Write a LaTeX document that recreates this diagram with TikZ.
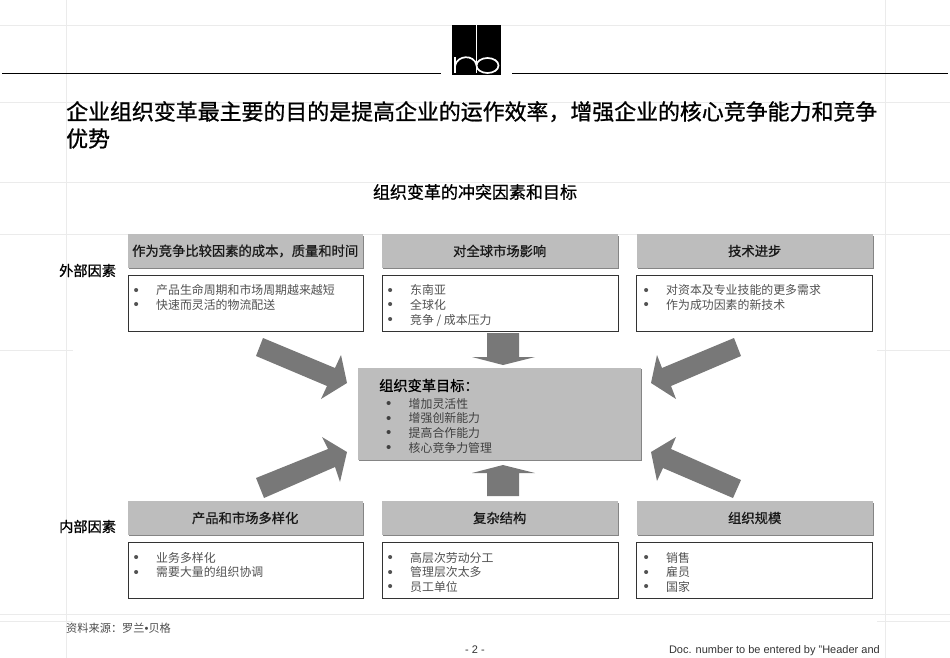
\documentclass[tikz,border=0pt]{standalone}
\usepackage{fontspec}
\setmainfont{Liberation Sans}
\newfontfamily\cjk{Noto Sans CJK SC}
\newfontfamily\cjkb[FakeBold=0.9]{Noto Sans CJK SC}
\newcommand{\blt}{\makebox[22.5pt][l]{{\fontspec{Liberation Sans}\fontsize{15}{14}\selectfont\raisebox{-.3pt}{•}}}}
\tikzset{
  gridln/.style={draw=black!8,line width=.5pt},
  rule/.style={draw=black,line width=.9pt},
  headbox/.style={fill=black!26,draw=none,minimum height=33.5pt,inner sep=0pt,anchor=north west,font=\cjkb\fontsize{13.3}{15}\selectfont,text=black!90},
  listbox/.style={draw=black!80,line width=.7pt,fill=white,minimum height=56pt,inner sep=0pt,anchor=north west},
  listtext/.style={anchor=north west,inner sep=0pt,align=left,text=black!68,font=\cjk\fontsize{11.9}{14.65}\selectfont},
  sidelabel/.style={anchor=west,inner sep=0pt,font=\cjkb\fontsize{14.2}{16}\selectfont},
  bigarrow/.style={fill=black!53,draw=none},
  boxshadow/.style={fill=black!48,draw=none}
}
\begin{document}
\begin{tikzpicture}[x=1pt,y=-1pt]
\useasboundingbox (0,0) rectangle (950,658);
% faint guide lines
\foreach \y in {25,102,182,234,614}{\draw[gridln] (0,\y) -- (950,\y);}
\foreach \x in {66,885}{\draw[gridln] (\x,0) -- (\x,658);}
\foreach \y in {350,621}{\draw[gridln] (0,\y) -- (73,\y); \draw[gridln] (877,\y) -- (950,\y);}
% top rules and logo
\draw[rule] (2,73) -- (441,73);
\draw[rule] (512,73) -- (948,73);
\fill[black] (452,25) rectangle (501,75);
\draw[white,line width=1.7pt] (476.5,25) -- (476.5,73);
\draw[white,line width=1.7pt] (455,73) -- (455,57);
\draw[white,line width=1.7pt] (455,66) .. controls (457,55) and (474,54) .. (476.5,65);
\draw[white,line width=1.7pt] (487.5,65.5) ellipse [x radius=11,y radius=7.5];
% title
\node[anchor=north west,inner sep=0pt,align=left,font=\cjkb\fontsize{21.92}{27}\selectfont] (title) at (66,101) {企业组织变革最主要的目的是提高企业的运作效率，增强企业的核心竞争能力和竞争\\优势};
\node[inner sep=0pt,font=\cjkb\fontsize{17}{20}\selectfont] (subtitle) at (475,192) {组织变革的冲突因素和目标};
% side labels
\node[sidelabel] (ext) at (59,270.5) {外部因素};
\node[sidelabel] (int) at (59,526.5) {内部因素};
% header shadows
\foreach \x/\w in {127.5/235,381.5/236,636.5/236}{
  \fill[boxshadow] (\x+1,236) rectangle (\x+\w+1,268.7);
  \fill[boxshadow] (\x+1,503) rectangle (\x+\w+1,535.7);
}
\fill[boxshadow] (359,369) rectangle (642.2,460.7);
% headers
\node[headbox,minimum width=235pt] (h1) at (127.5,234) {作为竞争比较因素的成本，质量和时间};
\node[headbox,minimum width=236pt] (h2) at (381.5,234) {对全球市场影响};
\node[headbox,minimum width=236pt] (h3) at (636.5,234) {技术进步};
\node[headbox,minimum width=235pt] (h4) at (127.5,501) {产品和市场多样化};
\node[headbox,minimum width=236pt] (h5) at (381.5,501) {复杂结构};
\node[headbox,minimum width=236pt] (h6) at (636.5,501) {组织规模};
% list boxes
\node[listbox,minimum width=235pt] (b1) at (127.5,275) {};
\node[listbox,minimum width=236pt] (b2) at (381.5,275) {};
\node[listbox,minimum width=236pt] (b3) at (636,275) {};
\node[listbox,minimum width=235pt] (b4) at (127.5,542) {};
\node[listbox,minimum width=236pt] (b5) at (381.5,542) {};
\node[listbox,minimum width=236pt] (b6) at (636,542) {};
\node[listtext] (t1) at (133.5,284.5) {\blt 产品生命周期和市场周期越来越短\\\blt 快速而灵活的物流配送};
\node[listtext] (t2) at (387.5,284.5) {\blt 东南亚\\\blt 全球化\\\blt 竞争 / 成本压力};
\node[listtext] (t3) at (643.5,284.5) {\blt 对资本及专业技能的更多需求\\\blt 作为成功因素的新技术};
\node[listtext] (t4) at (133.5,552) {\blt 业务多样化\\\blt 需要大量的组织协调};
\node[listtext] (t5) at (387.5,552) {\blt 高层次劳动分工\\\blt 管理层次太多\\\blt 员工单位};
\node[listtext] (t6) at (643.5,552) {\blt 销售\\\blt 雇员\\\blt 国家};
% centre box
\node[fill=black!26,minimum width=283pt,minimum height=92pt,inner sep=0pt,anchor=north west] (goal) at (358,367.5) {};
\node[anchor=west,inner sep=0pt,font=\cjkb\fontsize{14.2}{16}\selectfont] (goalhead) at (379,385.5) {组织变革目标：};
\node[listtext,text=black!75] (goallist) at (386,398) {\blt 增加灵活性\\\blt 增强创新能力\\\blt 提高合作能力\\\blt 核心竞争力管理};
% arrows
\fill[bigarrow] (263,338) -- (335,368) -- (341,355) -- (347,383) -- (321,399) -- (327,386) -- (256,356) -- cycle;
\fill[bigarrow] (734,338) -- (662,368) -- (657,355) -- (651,383) -- (676,399) -- (671,386) -- (741,356) -- cycle;
\fill[bigarrow] (256,478) -- (328,449) -- (322,437) -- (347,452) -- (340,482) -- (335,467) -- (264,498) -- cycle;
\fill[bigarrow] (741,480) -- (671,449) -- (676,437) -- (651,452) -- (657,481) -- (663,468) -- (733,498) -- cycle;
\fill[bigarrow] (487,333) -- (519,333) -- (519,357) -- (535,357) -- (503,365) -- (472,357) -- (487,357) -- cycle;
\fill[bigarrow] (487,496) -- (519,496) -- (519,473) -- (535,473) -- (503,465) -- (472,473) -- (487,473) -- cycle;
% footer
\node[anchor=west,inner sep=0pt,text=black!70,font=\cjk\fontsize{11.2}{12}\selectfont] (src) at (66,628.5) {资料来源：罗兰{\fontspec{Liberation Sans}•}贝格};
\node[inner sep=0pt,text=black!80,font=\fontsize{11}{13}\selectfont] (page) at (475,650) {- 2 -};
\node[anchor=east,inner sep=0pt,text=black!80,font=\fontsize{11}{13}\selectfont] (doc) at (880,650.5) {Doc. number to be entered by "Header and};
\end{tikzpicture}
\end{document}
